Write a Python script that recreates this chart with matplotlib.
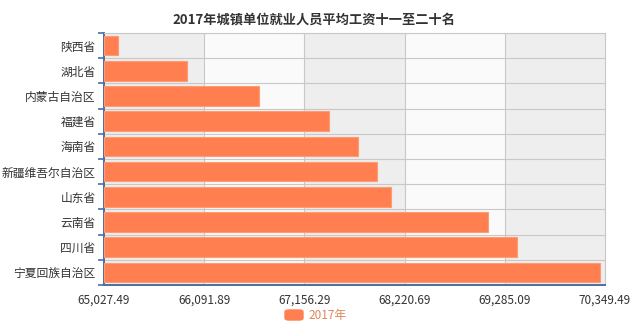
import matplotlib
matplotlib.use("Agg")
import matplotlib.pyplot as plt
from matplotlib.patches import FancyBboxPatch
import numpy as np

plt.rcParams['font.family'] = ['Noto Sans CJK SC', 'DejaVu Sans']

categories = ["陕西省", "湖北省", "内蒙古自治区", "福建省", "海南省",
              "新疆维吾尔自治区", "山东省", "云南省", "四川省", "宁夏回族自治区"]
values = [65181, 65912, 66679, 67420, 67727, 67932, 68081, 69106, 69419, 70298]
xticks = [65027.49, 66091.89, 67156.29, 68220.69, 69285.09, 70349.49]
title = "2017年城镇单位就业人员平均工资十一至二十名"
series_name = "2017年"

bar_color = "#ff7f50"
axis_blue = "#4a6fa5"

fig = plt.figure(figsize=(6.4, 3.29), dpi=100)
ax = fig.add_axes([104/640, 1-285/329, (605-104)/640, (285-33)/329])

n = len(categories)
y = np.arange(n)[::-1]  # first category at top
xmin, xmax = xticks[0], xticks[-1]

# alternating background bands
for i in range(len(xticks)-1):
    ax.axvspan(xticks[i], xticks[i+1], color="#eeeeee" if i % 2 == 0 else "#fafafa", zorder=0, lw=0)

ax.barh(y, np.array(values) - xmin, left=xmin, height=0.78, color=bar_color,
        edgecolor="#ff9a73", linewidth=0.8, zorder=3)

ax.set_xlim(xmin, xmax)
ax.set_ylim(-0.5, n-0.5)

ax.set_xticks(xticks)
ax.set_xticklabels([f"{v:,.2f}" for v in xticks], fontsize=8.5, color="#333333")
ax.set_yticks(y)
ax.set_yticklabels(categories, fontsize=8.5, color="#333333")
ax.tick_params(axis='y', length=0, pad=6)
ax.tick_params(axis='x', length=0, pad=6)

# grid lines
for xv in xticks[1:-1]:
    ax.axvline(xv, color="#c8c8c8", lw=0.8, zorder=1)
for b in np.arange(-0.5, n, 1.0):
    ax.axhline(b, color="#c8c8c8", lw=0.8, zorder=1)
# y-axis minor ticks at boundaries (left side, blue)
ax.set_yticks(np.arange(-0.5, n, 1.0), minor=True)
ax.tick_params(axis='y', which='minor', length=4, color=axis_blue, width=1.2, direction='out')

for s in ["top", "right"]:
    ax.spines[s].set_color("#c8c8c8")
    ax.spines[s].set_linewidth(0.8)
ax.spines["left"].set_color(axis_blue)
ax.spines["left"].set_linewidth(1.4)
ax.spines["bottom"].set_color(axis_blue)
ax.spines["bottom"].set_linewidth(1.4)

fig.text(314/640, 1-20/329, title, ha="center", va="center", fontsize=9.5,
         fontweight="bold", color="#333333")

# legend
fig.patches.append(FancyBboxPatch((285/640, 1-320/329), 18/640, 10/329,
                                  boxstyle="round,pad=0,rounding_size=0.006",
                                  transform=fig.transFigure, color=bar_color))
fig.text(308/640, 1-315/329, series_name, ha="left", va="center", fontsize=8.5, color="#e0855a")

fig.savefig("out.png", dpi=100, facecolor="white")
